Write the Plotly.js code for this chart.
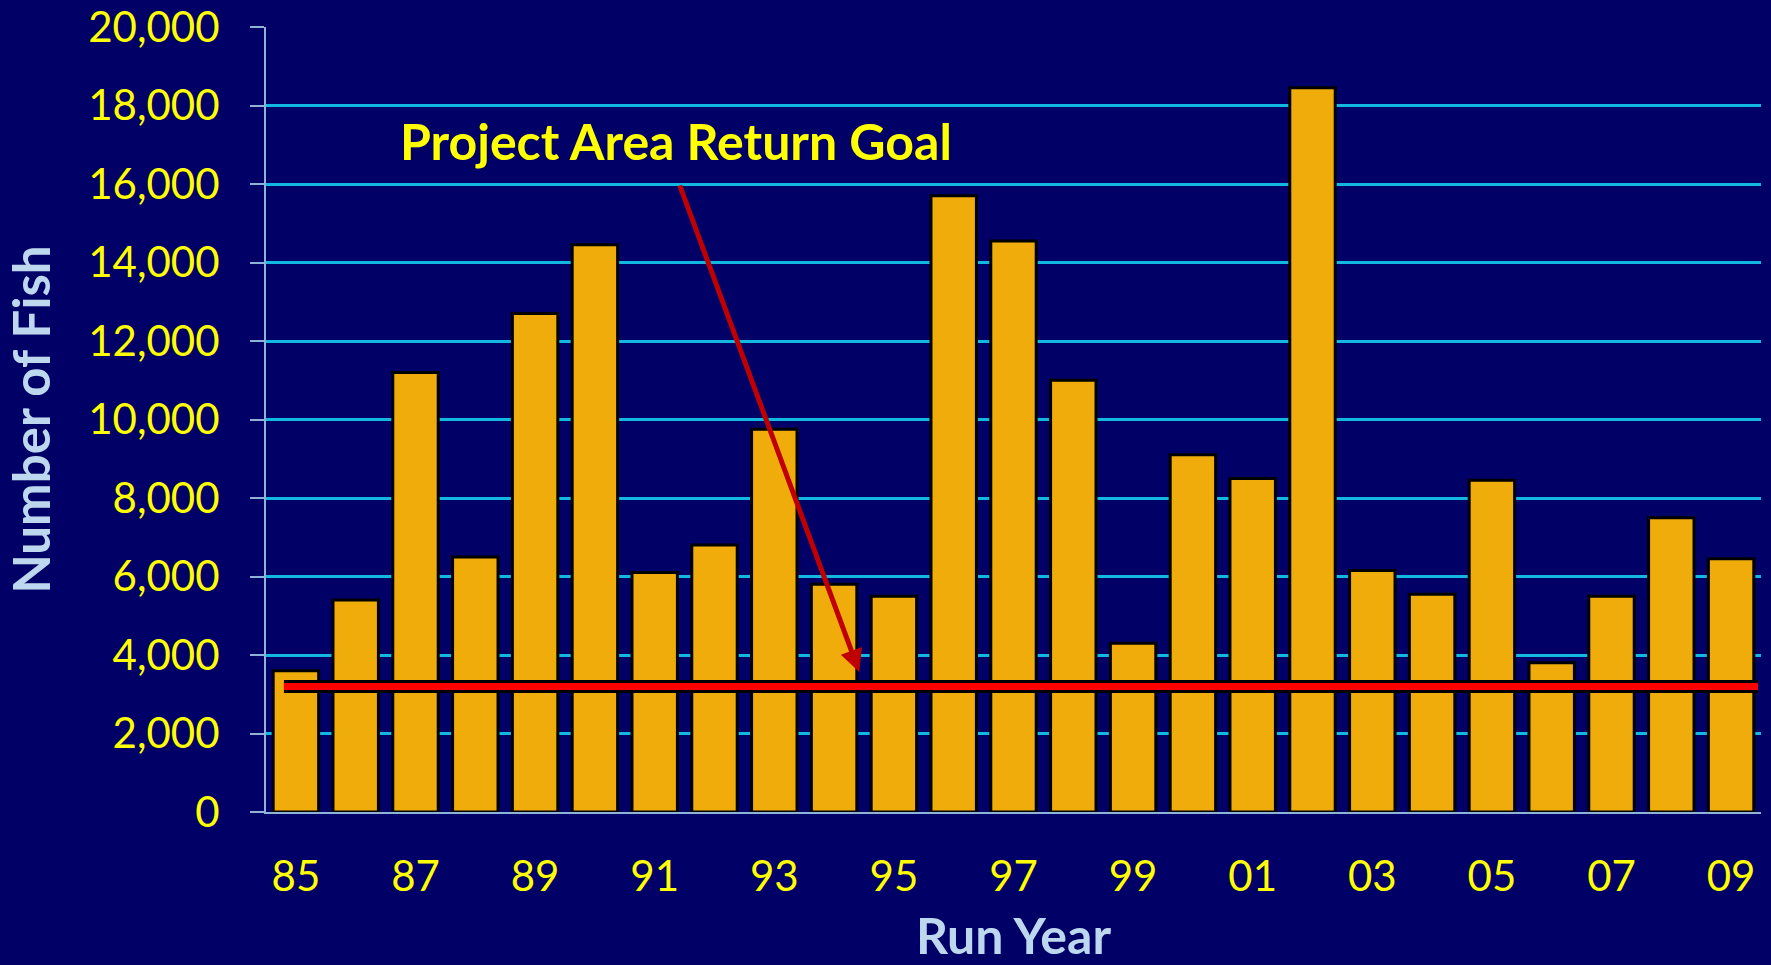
<!DOCTYPE html>
<html>
<head>
<meta charset="utf-8">
<script src="https://cdn.plot.ly/plotly-3.0.1.min.js"></script>
<style>
  html, body { margin: 0; padding: 0; background: #000066; }
  #grafico { width: 1771px; height: 965px; }
</style>
</head>
<body>
<div id="grafico"></div>
<script>
// Anos de retorno (rotulos) e numero de peixes
var anos = ["85","86","87","88","89","90","91","92","93","94","95","96","97","98","99","00","01","02","03","04","05","06","07","08","09"];
var peixes = [3600, 5400, 11200, 6500, 12700, 14450, 6100, 6800, 9750, 5800, 5500, 15700, 14550, 11000, 4300, 9100, 8500, 18450, 6150, 5550, 8450, 3800, 5500, 7500, 6450];
var metaRetorno = 3200; // Project Area Return Goal
var yTicks = [0, 2000, 4000, 6000, 8000, 10000, 12000, 14000, 16000, 18000, 20000];

var idx = anos.map(function(a, i){ return i; });
var xTicks = idx.filter(function(i){ return i % 2 === 0; });
var xTickText = xTicks.map(function(i){ return anos[i]; });

var barras = {
    x: idx,
    y: peixes,
    type: "bar",
    width: 0.76,
    marker: {
        color: "#efac0b",
        line: {color: "#000000", width: 3}
    },
    hoverinfo: "skip"
};

// linha da meta: contorno preto + linha vermelha
var metaX = [-0.2, 24.45];
var metaPreta = {
    x: metaX, y: [metaRetorno, metaRetorno],
    mode: "lines",
    line: {color: "#000000", width: 13},
    hoverinfo: "skip"
};
var metaVermelha = {
    x: metaX, y: [metaRetorno, metaRetorno],
    mode: "lines",
    line: {color: "#ff0000", width: 7},
    hoverinfo: "skip"
};

var fonte = "Lato, 'Open Sans', sans-serif";

var layout = {
    width: 1771,
    height: 965,
    paper_bgcolor: "#000066",
    plot_bgcolor: "#000066",
    showlegend: false,
    margin: {l: 266, r: 10, t: 27, b: 153},
    bargap: 0.24,
    xaxis: {
        range: [-0.5, 24.5],
        tickvals: xTicks,
        ticktext: xTickText,
        tickfont: {family: fonte, size: 42, color: "#ffff00"},
        ticks: "",
        ticklabelstandoff: 27,
        showgrid: false,
        zeroline: false,
        showline: true,
        linecolor: "#8db3d9",
        linewidth: 2,
        title: {text: "<b>Run Year</b>", font: {family: fonte, size: 50, color: "#bdd7ee"}, standoff: 36}
    },
    yaxis: {
        range: [0, 20000],
        tickvals: yTicks,
        tickformat: ",d",
        tickfont: {family: fonte, size: 42, color: "#ffff00"},
        ticks: "outside",
        ticklen: 14,
        tickwidth: 2,
        tickcolor: "#8db3d9",
        ticklabelstandoff: 22,
        showgrid: true,
        gridcolor: "#13b8e0",
        gridwidth: 3,
        zeroline: false,
        showline: true,
        linecolor: "#8db3d9",
        linewidth: 2,
        title: {text: "<b>Number of Fish</b>", font: {family: fonte, size: 51, color: "#bdd7ee"}, standoff: 22}
    },
    annotations: [
        {
            x: 9.42, y: 3570, xref: "x", yref: "y",
            ax: 6.41, ay: 16000, axref: "x", ayref: "y",
            text: "", showarrow: true,
            arrowhead: 2, arrowsize: 0.9, arrowwidth: 5, arrowcolor: "#c00000"
        },
        {
            x: 6.35, y: 17100, xref: "x", yref: "y",
            text: "<b>Project Area Return Goal</b>",
            showarrow: false,
            font: {family: fonte, size: 50, color: "#ffff00"}
        }
    ]
};

Plotly.newPlot("grafico", [barras, metaPreta, metaVermelha], layout, {displayModeBar: false, staticPlot: true});
</script>
</body>
</html>
